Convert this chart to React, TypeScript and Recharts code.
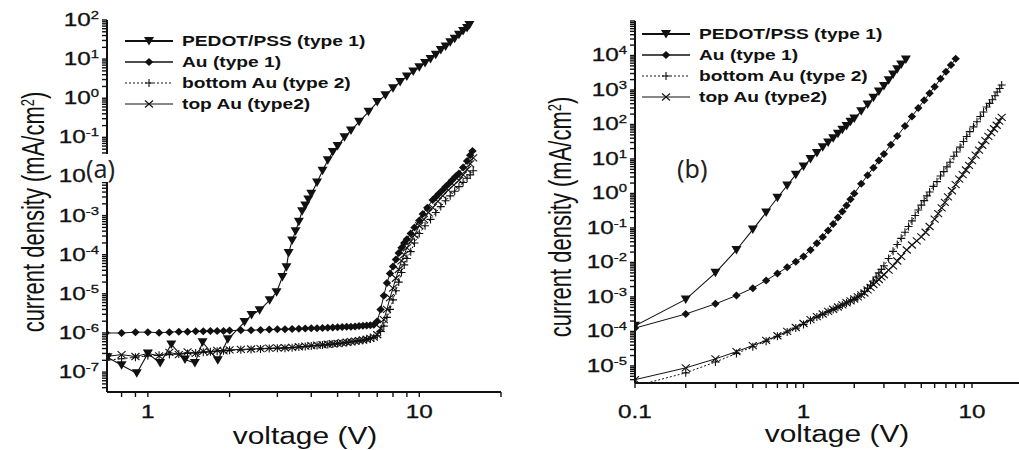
import React from 'react';
import { LineChart, Line, XAxis, YAxis, Legend } from 'recharts';

// ---- panel (a): voltage (V) vs current density (mA/cm2) ----
const pedotV_a = [0.71, 0.8, 0.91, 1.0, 1.11, 1.22, 1.37, 1.49, 1.59, 1.81, 1.97, 2.27, 2.41, 2.58, 2.81, 2.98, 3.13, 3.24, 3.3, 3.4, 3.5, 3.6, 3.7, 3.8, 3.9, 4.0, 4.2, 4.4, 4.6, 4.8, 5.0, 5.3, 5.6, 6.0, 6.5, 7.0, 7.5, 8.0, 8.5, 9.0, 9.5, 10, 10.5, 11, 11.5, 12, 12.5, 13, 13.5, 14, 14.5, 15, 15.3];
const pedotJ_a = [2.4e-7, 1.5e-7, 9.3e-8, 3.0e-7, 1.7e-7, 5.1e-7, 2.1e-7, 1.7e-7, 5.8e-7, 2.0e-7, 6.9e-7, 1.9e-6, 2.9e-6, 3.8e-6, 6.9e-6, 1.1e-5, 2.7e-5, 4.8e-5, 1.1e-4, 2.3e-4, 4e-4, 7e-4, 1.3e-3, 1.8e-3, 2.6e-3, 3.6e-3, 7e-3, 1.4e-2, 2.6e-2, 4.2e-2, 6e-2, 0.1, 0.15, 0.25, 0.45, 0.8, 1.2, 1.8, 2.6, 3.6, 4.8, 6.2, 8, 10, 13, 17, 21, 27, 33, 42, 52, 62, 75];

const auV_a = [0.7, 0.8, 0.9, 1.0, 1.1, 1.2, 1.3, 1.4, 1.5, 1.6, 1.7, 1.8, 1.9, 2.0, 2.2, 2.4, 2.6, 2.8, 3.0, 3.2, 3.4, 3.6, 3.8, 4.0, 4.2, 4.4, 4.6, 4.8, 5.0, 5.2, 5.4, 5.6, 5.8, 6.0, 6.2, 6.4, 6.6, 6.8, 7.0, 7.2, 7.4, 7.6, 7.8, 8.0, 8.2, 8.4, 8.6, 8.8, 9.0, 9.3, 9.6, 10.0, 10.3, 10.7, 11.2, 11.5, 11.8, 12.2, 12.5, 12.9, 13.2, 13.6, 14.0, 14.5, 15.0, 15.4, 15.7];
const auJ_a = [1.0e-6, 1.0e-6, 1.05e-6, 1.05e-6, 1.02e-6, 1.05e-6, 1.08e-6, 1.08e-6, 1.1e-6, 1.1e-6, 1.12e-6, 1.12e-6, 1.13e-6, 1.15e-6, 1.17e-6, 1.18e-6, 1.2e-6, 1.22e-6, 1.24e-6, 1.25e-6, 1.27e-6, 1.28e-6, 1.3e-6, 1.32e-6, 1.33e-6, 1.35e-6, 1.37e-6, 1.38e-6, 1.4e-6, 1.42e-6, 1.44e-6, 1.45e-6, 1.47e-6, 1.5e-6, 1.52e-6, 1.55e-6, 1.58e-6, 1.62e-6, 2.0e-6, 4e-6, 9e-6, 1.9e-5, 3.3e-5, 5e-5, 7.5e-5, 1.1e-4, 1.5e-4, 2e-4, 2.5e-4, 3.5e-4, 5e-4, 7.5e-4, 1.1e-3, 1.6e-3, 2.5e-3, 3e-3, 3.6e-3, 4.5e-3, 5.5e-3, 6.7e-3, 8e-3, 1e-2, 1.2e-2, 1.7e-2, 2.5e-2, 3.5e-2, 4.5e-2];

const bottomAuV_a = [0.7, 0.8, 0.9, 1.0, 1.1, 1.2, 1.3, 1.4, 1.5, 1.6, 1.7, 1.8, 1.9, 2.0, 2.2, 2.4, 2.6, 2.8, 3.0, 3.2, 3.4, 3.6, 3.8, 4.0, 4.2, 4.4, 4.6, 4.8, 5.0, 5.2, 5.4, 5.6, 5.8, 6.0, 6.2, 6.4, 6.6, 6.8, 7.0, 7.2, 7.4, 7.6, 7.8, 8.0, 8.2, 8.4, 8.6, 8.8, 9.0, 9.3, 9.6, 10.0, 10.5, 11.0, 11.5, 12.0, 12.5, 13.0, 13.5, 14.0, 14.5, 15.0, 15.4, 15.8];
const bottomAuJ_a = [2.0e-7, 2.2e-7, 2.4e-7, 2.6e-7, 2.7e-7, 2.8e-7, 2.9e-7, 3.0e-7, 3.1e-7, 3.2e-7, 3.3e-7, 3.4e-7, 3.5e-7, 3.6e-7, 3.7e-7, 3.8e-7, 3.9e-7, 4.0e-7, 4.05e-7, 4.1e-7, 4.2e-7, 4.35e-7, 4.5e-7, 4.65e-7, 4.8e-7, 4.9e-7, 5.05e-7, 5.2e-7, 5.35e-7, 5.5e-7, 5.7e-7, 5.9e-7, 6.1e-7, 6.3e-7, 6.5e-7, 6.8e-7, 7.2e-7, 7.6e-7, 8.5e-7, 1.1e-6, 1.5e-6, 2.5e-6, 4e-6, 7e-6, 1.2e-5, 2e-5, 3.5e-5, 5.5e-5, 8e-5, 1.2e-4, 2e-4, 3.5e-4, 5.5e-4, 8e-4, 1.2e-3, 1.7e-3, 2.4e-3, 3.2e-3, 4.2e-3, 5.5e-3, 7e-3, 9e-3, 1.1e-2, 1.4e-2];

const topAuV_a = [0.7, 0.8, 0.9, 1.0, 1.1, 1.2, 1.3, 1.4, 1.5, 1.6, 1.7, 1.8, 1.9, 2.0, 2.2, 2.4, 2.6, 2.8, 3.0, 3.2, 3.4, 3.6, 3.8, 4.0, 4.2, 4.4, 4.6, 4.8, 5.0, 5.2, 5.4, 5.6, 5.8, 6.0, 6.2, 6.4, 6.6, 6.8, 7.0, 7.2, 7.4, 7.6, 7.8, 8.0, 8.2, 8.4, 8.6, 8.8, 9.0, 9.3, 9.6, 10.0, 10.4, 10.8, 11.2, 11.7, 12.2, 12.8, 13.4, 14.0, 14.5, 15.0, 15.4, 15.8];
const topAuJ_a = [2.5e-7, 2.8e-7, 2.5e-7, 3.0e-7, 2.6e-7, 3.2e-7, 2.8e-7, 3.3e-7, 3.0e-7, 3.4e-7, 3.2e-7, 3.6e-7, 3.5e-7, 3.7e-7, 3.8e-7, 3.9e-7, 4.0e-7, 4.1e-7, 4.15e-7, 4.2e-7, 4.3e-7, 4.45e-7, 4.6e-7, 4.75e-7, 4.9e-7, 5.0e-7, 5.15e-7, 5.3e-7, 5.45e-7, 5.6e-7, 5.8e-7, 6.0e-7, 6.2e-7, 6.4e-7, 6.6e-7, 6.9e-7, 7.3e-7, 7.8e-7, 9e-7, 1.3e-6, 2.2e-6, 4e-6, 8e-6, 1.4e-5, 2.5e-5, 4.2e-5, 7e-5, 1e-4, 1.5e-4, 2.2e-4, 3.2e-4, 5.5e-4, 8e-4, 1.2e-3, 1.6e-3, 2.3e-3, 3.2e-3, 4.5e-3, 6e-3, 8e-3, 1.1e-2, 1.5e-2, 2.1e-2, 3e-2];

// ---- panel (b) ----
const pedotV_b = [0.1, 0.2, 0.3, 0.4, 0.5, 0.6, 0.7, 0.8, 0.9, 1.0, 1.1, 1.2, 1.3, 1.4, 1.5, 1.6, 1.7, 1.8, 1.9, 2.0, 2.2, 2.4, 2.6, 2.8, 3.0, 3.2, 3.4, 3.6, 3.8, 4.05];
const pedotJ_b = [1.45e-4, 8.5e-4, 5e-3, 2.3e-2, 9e-2, 0.28, 0.75, 1.7, 3.5, 6, 10, 15, 22, 30, 40, 54, 70, 90, 120, 150, 240, 380, 600, 900, 1300, 1900, 2800, 4000, 5500, 7600];

const auV_b = [0.1, 0.2, 0.3, 0.4, 0.5, 0.6, 0.7, 0.8, 0.9, 1.0, 1.1, 1.2, 1.3, 1.4, 1.5, 1.6, 1.7, 1.8, 1.9, 2.0, 2.2, 2.4, 2.6, 2.8, 3.0, 3.3, 3.6, 4.0, 4.4, 4.8, 5.2, 5.6, 6.0, 6.5, 7.0, 7.5, 8.0];
const auJ_b = [1.25e-4, 3.2e-4, 6.3e-4, 1.1e-3, 1.8e-3, 3e-3, 4.8e-3, 7.2e-3, 1.05e-2, 1.5e-2, 2.3e-2, 3.6e-2, 5.5e-2, 8.5e-2, 0.13, 0.2, 0.3, 0.45, 0.68, 1.0, 1.9, 3.4, 5.6, 9, 14, 26, 46, 90, 170, 300, 500, 800, 1250, 2100, 3400, 5300, 8000];

const bottomAuV_b = [0.1, 0.2, 0.3, 0.4, 0.5, 0.6, 0.7, 0.8, 0.9, 1.0, 1.1, 1.2, 1.3, 1.4, 1.5, 1.6, 1.7, 1.8, 1.9, 2.0, 2.1, 2.2, 2.3, 2.4, 2.5, 2.6, 2.7, 2.8, 2.9, 3.0, 3.2, 3.4, 3.6, 3.8, 4.0, 4.2, 4.4, 4.6, 4.8, 5.0, 5.2, 5.4, 5.6, 5.9, 6.2, 6.5, 6.8, 7.1, 7.4, 7.8, 8.1, 8.5, 8.9, 9.3, 9.7, 10.2, 10.7, 11.2, 11.7, 12.2, 12.7, 13.2, 13.7, 14.1, 14.6, 15.0];
const bottomAuJ_b = [2.6e-6, 6.3e-6, 1.3e-5, 2.3e-5, 3.6e-5, 5.2e-5, 7.2e-5, 9.6e-5, 1.25e-4, 1.6e-4, 2.1e-4, 2.6e-4, 3.1e-4, 3.7e-4, 4.3e-4, 5e-4, 5.8e-4, 6.7e-4, 7.6e-4, 8.5e-4, 1e-3, 1.2e-3, 1.45e-3, 1.8e-3, 2.2e-3, 2.9e-3, 3.8e-3, 5e-3, 6.3e-3, 8e-3, 1.3e-2, 2.1e-2, 3.3e-2, 5e-2, 7.5e-2, 0.11, 0.16, 0.23, 0.33, 0.46, 0.62, 0.85, 1.1, 1.6, 2.2, 3.2, 4.3, 5.9, 8, 12, 16, 22, 32, 45, 62, 85, 120, 170, 230, 320, 410, 520, 680, 870, 1100, 1400];

const topAuV_b = [0.1, 0.2, 0.3, 0.4, 0.5, 0.6, 0.7, 0.8, 0.9, 1.0, 1.1, 1.2, 1.3, 1.4, 1.5, 1.6, 1.7, 1.8, 1.9, 2.0, 2.1, 2.2, 2.3, 2.4, 2.5, 2.6, 2.7, 2.8, 2.9, 3.0, 3.2, 3.4, 3.6, 3.8, 4.1, 4.4, 4.7, 5.0, 5.3, 5.6, 6.0, 6.3, 6.6, 6.9, 7.2, 7.6, 8.0, 8.4, 8.8, 9.2, 9.6, 10.0, 10.5, 11.0, 11.5, 12.0, 12.5, 13.0, 13.5, 14.0, 14.5, 15.0];
const topAuJ_b = [4e-6, 8.8e-6, 1.6e-5, 2.6e-5, 3.9e-5, 5.5e-5, 7.5e-5, 1e-4, 1.3e-4, 1.7e-4, 2.2e-4, 2.7e-4, 3.2e-4, 3.8e-4, 4.4e-4, 5.1e-4, 5.9e-4, 6.8e-4, 7.7e-4, 8.7e-4, 1e-3, 1.15e-3, 1.3e-3, 1.6e-3, 1.9e-3, 2.3e-3, 2.7e-3, 3.2e-3, 3.8e-3, 4.4e-3, 6e-3, 8e-3, 1.1e-2, 1.5e-2, 2.3e-2, 3.2e-2, 4.2e-2, 5.5e-2, 7.5e-2, 0.11, 0.18, 0.26, 0.38, 0.55, 0.8, 1.2, 1.8, 2.6, 3.5, 4.8, 6.5, 9, 13, 18, 25, 34, 45, 58, 75, 95, 125, 160];

// axes
const xDomainA = [0.707, 20];
const yDomainA = [3.1e-8, 100];
const xLabelsA = [1, 10];
const yExpsA = [-7, -6, -5, -4, -3, -2, -1, 0, 1, 2];

const xDomainB = [0.1, 19];
const yDomainB = [3.2e-6, 1e5];
const xLabelsB = [0.1, 1, 10];
const yExpsB = [-5, -4, -3, -2, -1, 0, 1, 2, 3, 4];

const SERIES_NAMES = ['PEDOT/PSS (type 1)', 'Au (type 1)', 'bottom Au (type 2)', 'top Au (type2)'];

const INK = '#111';
const SANS = '"Liberation Sans", Arial, sans-serif';
const TICK_SIZE = 5;

type Kind = 'tri' | 'diamond' | 'plus' | 'cross';

const STYLE: Record<string, { kind: Kind; dash?: string; width: number; legendWidth: number }> = {
  'PEDOT/PSS (type 1)': { kind: 'tri', width: 1.1, legendWidth: 2 },
  'Au (type 1)': { kind: 'diamond', width: 1, legendWidth: 1.3 },
  'bottom Au (type 2)': { kind: 'plus', dash: '2 2', width: 1, legendWidth: 1 },
  'top Au (type2)': { kind: 'cross', width: 1, legendWidth: 1.2 },
};

const zip = (v: number[], j: number[]) => v.map((x, i) => ({ v: x, j: j[i] }));

// decade + minor (2..9) ticks inside a domain
function logTicks(lo: number, hi: number) {
  const out: number[] = [];
  for (let e = Math.floor(Math.log10(lo)); e <= Math.ceil(Math.log10(hi)); e++) {
    for (let m = 1; m <= 9; m++) {
      const t = m * Math.pow(10, e);
      if (t >= lo * 0.999 && t <= hi * 1.001) out.push(t);
    }
  }
  return out;
}

const isDecade = (v: number) => Math.abs(Math.log10(v) - Math.round(Math.log10(v))) < 1e-6;

function Marker({ kind, cx, cy }: { kind: Kind; cx: number; cy: number }) {
  if (cx == null || cy == null || isNaN(cx) || isNaN(cy)) return null;
  switch (kind) {
    case 'tri':
      return <path d={`M${cx - 5},${cy - 4}L${cx + 5},${cy - 4}L${cx},${cy + 4.5}Z`} fill={INK} />;
    case 'diamond':
      return <path d={`M${cx},${cy - 4}L${cx + 4.2},${cy}L${cx},${cy + 4}L${cx - 4.2},${cy}Z`} fill={INK} />;
    case 'plus':
      return <path d={`M${cx - 4},${cy}H${cx + 4}M${cx},${cy - 4}V${cy + 4}`} stroke={INK} strokeWidth={1.1} fill="none" />;
    default:
      return <path d={`M${cx - 4},${cy - 3.5}L${cx + 4},${cy + 3.5}M${cx - 4},${cy + 3.5}L${cx + 4},${cy - 3.5}`} stroke={INK} strokeWidth={1.1} fill="none" />;
  }
}

function LegendBox({ payload }: any) {
  const names = SERIES_NAMES.filter((n) => (payload || []).some((p: any) => p.value === n));
  return (
    <div>
      {names.map((n) => {
        const st = STYLE[n];
        return (
          <div key={n} style={{ display: 'flex', alignItems: 'center', height: 21 }}>
            <svg width={48} height={14} style={{ display: 'block' }}>
              <line x1={0} x2={48} y1={7} y2={7} stroke={INK} strokeWidth={st.legendWidth} strokeDasharray={st.dash} />
              <Marker kind={st.kind} cx={24} cy={7} />
            </svg>
            <span
              style={{
                display: 'inline-block',
                marginLeft: 9,
                font: `bold 14px ${SANS}`,
                color: INK,
                whiteSpace: 'nowrap',
                transform: 'scaleX(1.37)',
                transformOrigin: 'left center',
              }}
            >
              {n}
            </span>
          </div>
        );
      })}
    </div>
  );
}

const fmtV = (v: number) => (v < 1 ? v.toFixed(1) : String(v));

// tick marks come from recharts' own tickLine; these only draw the labels
function YLabel({ x, y, payload, exps }: any) {
  const v = payload.value;
  const e = Math.round(Math.log10(v));
  if (!isDecade(v) || !exps.includes(e)) return <g />;
  return (
    <text transform={`translate(${x},${y + 6}) scale(1.35,1)`} textAnchor="end" fontFamily={SANS} fontSize={18} fill={INK} stroke={INK} strokeWidth={0.3}>
      10<tspan dy={-7} fontSize={11}>{String(e)}</tspan>
    </text>
  );
}

function XLabel({ x, y, payload, labels, dy }: any) {
  const v = payload.value;
  if (!labels.some((l: number) => Math.abs(l - v) < 1e-9)) return <g />;
  return (
    <text transform={`translate(${x},${y + dy}) scale(1.35,1)`} textAnchor="middle" fontFamily={SANS} fontSize={18} fill={INK} stroke={INK} strokeWidth={0.3}>
      {fmtV(v)}
    </text>
  );
}

type PanelProps = {
  series: { name: string; data: { v: number; j: number }[] }[];
  width: number;
  margin: { top: number; right: number; bottom: number; left: number };
  yAxisWidth: number;
  xAxisHeight: number;
  xDomain: number[];
  yDomain: number[];
  xLabels: number[];
  yExps: number[];
  labelDy: number;
  legendPos: { left: number; top: number };
};

function Panel(p: PanelProps) {
  const xTicks = logTicks(p.xDomain[0], p.xDomain[1]);
  const yTicks = logTicks(p.yDomain[0], p.yDomain[1]);
  const axisLine = { stroke: INK, strokeWidth: 2 };
  const tickLine = { stroke: INK, strokeWidth: 1.4 };
  return (
    <LineChart width={p.width} height={450} margin={p.margin}>
      <XAxis
        xAxisId="b"
        dataKey="v"
        type="number"
        scale="log"
        domain={p.xDomain}
        allowDataOverflow
        ticks={xTicks}
        interval={0}
        height={p.xAxisHeight}
        tickSize={TICK_SIZE}
        tickMargin={0}
        tickLine={tickLine}
        axisLine={axisLine}
        tick={(t: any) => <XLabel {...t} labels={p.xLabels} dy={p.labelDy - TICK_SIZE} />}
      />
      <XAxis
        xAxisId="t"
        orientation="top"
        dataKey="v"
        type="number"
        scale="log"
        domain={p.xDomain}
        allowDataOverflow
        ticks={xTicks}
        interval={0}
        height={0}
        tickSize={TICK_SIZE}
        tickLine={tickLine}
        axisLine={axisLine}
        tick={false}
      />
      <YAxis
        yAxisId="l"
        type="number"
        scale="log"
        domain={p.yDomain}
        allowDataOverflow
        ticks={yTicks}
        interval={0}
        width={p.yAxisWidth}
        tickSize={TICK_SIZE}
        tickMargin={3}
        tickLine={tickLine}
        axisLine={axisLine}
        tick={(t: any) => <YLabel {...t} exps={p.yExps} />}
      />
      <YAxis
        yAxisId="r"
        orientation="right"
        type="number"
        scale="log"
        domain={p.yDomain}
        allowDataOverflow
        ticks={yTicks}
        interval={0}
        width={0}
        tickSize={TICK_SIZE}
        tickLine={tickLine}
        axisLine={axisLine}
        tick={false}
      />
      <Legend
        layout="horizontal"
        verticalAlign="middle"
        align="center"
        content={<LegendBox />}
        wrapperStyle={{ left: p.legendPos.left, top: p.legendPos.top, width: 'auto', height: 'auto' }}
      />
      {p.series.map((s) => {
        const st = STYLE[s.name];
        return (
          <Line
            key={s.name}
            name={s.name}
            data={s.data}
            dataKey="j"
            xAxisId="b"
            yAxisId="l"
            type="linear"
            stroke={INK}
            strokeWidth={st.width}
            strokeDasharray={st.dash}
            isAnimationActive={false}
            activeDot={false}
            dot={(d: any) => <Marker key={`${s.name}-${d.index}`} kind={st.kind} cx={d.cx} cy={d.cy} />}
          />
        );
      })}
    </LineChart>
  );
}

const seriesA = [
  { name: SERIES_NAMES[0], data: zip(pedotV_a, pedotJ_a) },
  { name: SERIES_NAMES[1], data: zip(auV_a, auJ_a) },
  { name: SERIES_NAMES[2], data: zip(bottomAuV_a, bottomAuJ_a) },
  { name: SERIES_NAMES[3], data: zip(topAuV_a, topAuJ_a) },
];

const seriesB = [
  { name: SERIES_NAMES[0], data: zip(pedotV_b, pedotJ_b) },
  { name: SERIES_NAMES[1], data: zip(auV_b, auJ_b) },
  { name: SERIES_NAMES[2], data: zip(bottomAuV_b, bottomAuJ_b) },
  { name: SERIES_NAMES[3], data: zip(topAuV_b, topAuJ_b) },
];

function YTitle({ cx, cy }: { cx: number; cy: number }) {
  return (
    <div
      style={{
        position: 'absolute',
        left: cx,
        top: cy,
        transform: 'translate(-50%,-50%) rotate(-90deg) scale(1,1.4)',
        font: `22px ${SANS}`,
        lineHeight: 1,
        whiteSpace: 'nowrap',
        color: INK,
      }}
    >
      current density (mA/cm<sup style={{ fontSize: 13, verticalAlign: 'top', lineHeight: 1 }}>2</sup>)
    </div>
  );
}

function XTitle({ cx, cy }: { cx: number; cy: number }) {
  return (
    <div
      style={{
        position: 'absolute',
        left: cx,
        top: cy,
        transform: 'translate(-50%,-50%) scale(1.3,1)',
        font: `23px ${SANS}`,
        lineHeight: 1,
        whiteSpace: 'nowrap',
        color: INK,
      }}
    >
      voltage (V)
    </div>
  );
}

export default function App() {
  return (
    <div style={{ position: 'absolute', left: 0, top: 0, width: 1019, height: 450, overflow: 'hidden', background: '#fff' }}>
      <div style={{ position: 'absolute', left: 0, top: 0 }}>
        <Panel
          series={seriesA}
          width={510}
          margin={{ top: 20, right: 9, bottom: 0, left: 0 }}
          yAxisWidth={107}
          xAxisHeight={58}
          xDomain={xDomainA}
          yDomain={yDomainA}
          xLabels={xLabelsA}
          yExps={yExpsA}
          labelDy={26}
          legendPos={{ left: 125, top: 30 }}
        />
      </div>
      <div style={{ position: 'absolute', left: 510, top: 0 }}>
        <Panel
          series={seriesB}
          width={510}
          margin={{ top: 21, right: 1, bottom: 0, left: 0 }}
          yAxisWidth={125}
          xAxisHeight={67}
          xDomain={xDomainB}
          yDomain={yDomainB}
          xLabels={xLabelsB}
          yExps={yExpsB}
          labelDy={35}
          legendPos={{ left: 132, top: 23 }}
        />
      </div>
      <YTitle cx={34} cy={212} />
      <YTitle cx={561} cy={217} />
      <XTitle cx={305} cy={436} />
      <XTitle cx={837} cy={434} />
      <div style={{ position: 'absolute', left: 86, top: 154, font: `25px "Noto Sans", sans-serif`, lineHeight: '28px', background: '#fff', color: '#222' }}>(a)</div>
      <div style={{ position: 'absolute', left: 677, top: 154, font: `25px "Noto Sans", sans-serif`, lineHeight: '28px', color: '#222' }}>(b)</div>
    </div>
  );
}
